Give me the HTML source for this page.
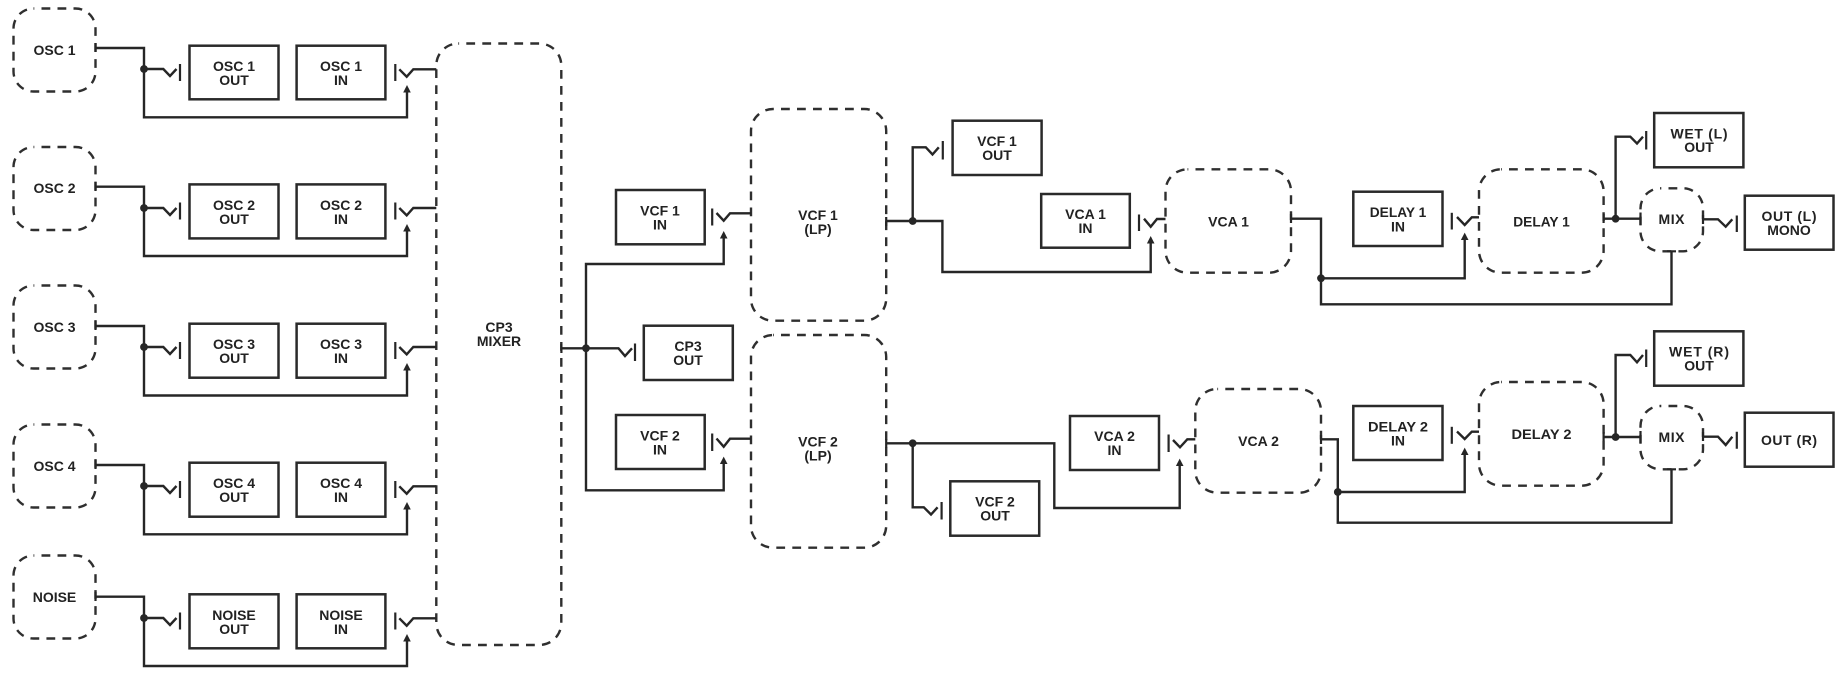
<!DOCTYPE html>
<html><head><meta charset="utf-8"><style>
html,body{margin:0;padding:0;background:#fff;width:1846px;height:682px;overflow:hidden}
svg{display:block}
.d{fill:none;stroke:#2f2f2f;stroke-width:2.4;stroke-dasharray:8.8 7.2;stroke-dashoffset:8}
.b{fill:none;stroke:#2a2a2a;stroke-width:2.5}
.l{fill:none;stroke:#262626;stroke-width:2.4;stroke-linejoin:miter}
.s{fill:none;stroke:#262626;stroke-width:2.2}
.c{fill:#262626}
text{font-family:"Liberation Sans",sans-serif;font-weight:700;font-size:14px;fill:#222;text-anchor:middle}
</style></head><body>
<svg width="1846" height="682" viewBox="0 0 1846 682" xmlns="http://www.w3.org/2000/svg">
<!-- dashed blocks -->
<rect class="d" x="13.5" y="8.5" width="82" height="83" rx="20"/>
<rect class="d" x="13.5" y="147" width="82" height="83" rx="20"/>
<rect class="d" x="13.5" y="285.5" width="82" height="83" rx="20"/>
<rect class="d" x="13.5" y="424.5" width="82" height="83" rx="20"/>
<rect class="d" x="13.5" y="555.5" width="82" height="83" rx="20"/>
<rect class="d" x="436.3" y="43.5" width="125" height="601.5" rx="22"/>
<rect class="d" x="751" y="109" width="135.2" height="211.7" rx="22"/>
<rect class="d" x="751" y="335" width="135.2" height="212.7" rx="22"/>
<rect class="d" x="1165.5" y="169.3" width="125.5" height="103.4" rx="22"/>
<rect class="d" x="1195.3" y="389" width="125.7" height="103.7" rx="22"/>
<rect class="d" x="1479" y="169.3" width="124.6" height="103.4" rx="22"/>
<rect class="d" x="1479" y="382" width="124.6" height="103.7" rx="22"/>
<rect class="d" x="1640.5" y="188.3" width="62.5" height="63" rx="20"/>
<rect class="d" x="1640.5" y="406" width="62.5" height="63.3" rx="20"/>
<!-- solid boxes -->
<rect class="b" x="189.5" y="45.7" width="89" height="53.6"/><rect class="b" x="296.6" y="45.7" width="88.8" height="53.6"/>
<rect class="b" x="189.5" y="184.4" width="89" height="54"/><rect class="b" x="296.6" y="184.4" width="88.8" height="54"/>
<rect class="b" x="189.5" y="323.7" width="89" height="54"/><rect class="b" x="296.6" y="323.7" width="88.8" height="54"/>
<rect class="b" x="189.5" y="462.7" width="89" height="54"/><rect class="b" x="296.6" y="462.7" width="88.8" height="54"/>
<rect class="b" x="189.5" y="594.3" width="89" height="54"/><rect class="b" x="296.6" y="594.3" width="88.8" height="54"/>
<rect class="b" x="616" y="190" width="88.7" height="54.3"/>
<rect class="b" x="643.8" y="325.7" width="89" height="54.3"/>
<rect class="b" x="616" y="415" width="88.7" height="54"/>
<rect class="b" x="952.6" y="120.7" width="89" height="54.3"/>
<rect class="b" x="950.3" y="481.3" width="88.9" height="54.4"/>
<rect class="b" x="1041.2" y="194" width="88.6" height="53.7"/>
<rect class="b" x="1070" y="416" width="89" height="54"/>
<rect class="b" x="1353.3" y="191.7" width="89.2" height="54.3"/>
<rect class="b" x="1353.3" y="406" width="89.2" height="54"/>
<rect class="b" x="1654.2" y="113" width="89.2" height="54.3"/>
<rect class="b" x="1654.2" y="331.3" width="89.2" height="54.4"/>
<rect class="b" x="1744.8" y="195.7" width="88.7" height="54"/>
<rect class="b" x="1744.8" y="412.7" width="88.7" height="54"/>
<!-- exit ticks -->
<path class="s" d="M95.5 43V52M95.5 182V191M95.5 321V330M95.5 460V469M95.5 592V601M561.4 344V353M886.2 217V226M886.2 439V448M1291 214V223M1321 435V444M1603.6 214V223M1603.6 432V441M1703 215V224M1703 432V441M1667 251.3H1676M1667 469.3H1676"/>
<!-- OSC 1 -->
<path class="l" d="M95.5 48H144V117.3H407V91"/><path class="l" d="M144 69H163.3L170 76L176.5 69"/><path class="s" d="M180 64V81M395.3 64V81"/><path class="l" d="M399.3 69.3L406.7 76.7L413.3 69.3H436.3"/>
<polygon class="c" points="407,85 403.2,92.5 410.8,92.5"/><circle class="c" cx="144" cy="69" r="3.9"/>
<!-- OSC 2 -->
<path class="l" d="M95.5 186.7H144V256H407V230"/><path class="l" d="M144 208H163.3L170 215L176.5 208"/><path class="s" d="M180 202.5V219.5M395.3 202.5V219.5"/><path class="l" d="M399.3 208L406.7 215.4L413.3 208H436.3"/>
<polygon class="c" points="407,224 403.2,231.5 410.8,231.5"/><circle class="c" cx="144" cy="208" r="3.9"/>
<!-- OSC 3 -->
<path class="l" d="M95.5 326H144V395.5H407V369"/><path class="l" d="M144 347H163.3L170 354L176.5 347"/><path class="s" d="M180 342V359M395.3 342V359"/><path class="l" d="M399.3 347L406.7 354.4L413.3 347H436.3"/>
<polygon class="c" points="407,363 403.2,370.5 410.8,370.5"/><circle class="c" cx="144" cy="347" r="3.9"/>
<!-- OSC 4 -->
<path class="l" d="M95.5 465H144V534.3H407V508"/><path class="l" d="M144 486H163.3L170 493L176.5 486"/><path class="s" d="M180 481V498M395.3 481V498"/><path class="l" d="M399.3 486.3L406.7 493.7L413.3 486.3H436.3"/>
<polygon class="c" points="407,502 403.2,509.5 410.8,509.5"/><circle class="c" cx="144" cy="486" r="3.9"/>
<!-- NOISE -->
<path class="l" d="M95.5 596.7H144V666H407V640"/><path class="l" d="M144 618H163.3L170 625L176.5 618"/><path class="s" d="M180 612.5V629.5M395.3 612.5V629.5"/><path class="l" d="M399.3 618.3L406.7 625.7L413.3 618.3H436.3"/>
<polygon class="c" points="407,634 403.2,641.5 410.8,641.5"/><circle class="c" cx="144" cy="618" r="3.9"/>
<!-- mixer outputs -->
<path class="l" d="M561.4 348.3H618.5L625 356L632 348.3"/><path class="s" d="M635 343.5V361"/>
<path class="l" d="M723.7 238V264H586V490.3H723.7V464"/>
<polygon class="c" points="723.7,231 719.9,238.5 727.5,238.5"/><polygon class="c" points="723.7,456.6 719.9,464 727.5,464"/>
<circle class="c" cx="586" cy="348.3" r="3.9"/>
<path class="s" d="M712.2 208.5V225.5M712.2 433.5V451"/>
<path class="l" d="M716.5 213L723.7 220.7L730 213.3H751"/><path class="l" d="M716.5 438.5L723.7 446.7L730 438.7H751"/>
<!-- VCF 1 out -->
<path class="l" d="M886.2 221H942.4V272H1150.7V243"/><path class="l" d="M912.7 221V147.3H925.8L932.5 154.5L938.8 147.3"/><path class="s" d="M942.8 141V159.5"/>
<circle class="c" cx="912.7" cy="221" r="3.9"/><polygon class="c" points="1150.7,236 1146.9,243.5 1154.5,243.5"/>
<path class="s" d="M1139 214.5V231"/><path class="l" d="M1144 218.7L1150.7 226.7L1157 219H1165.5"/>
<!-- VCF 2 out -->
<path class="l" d="M886.2 443.3H1054.3V508H1179.7V466"/><path class="l" d="M912.7 443.3V507.3H923.8L931 514.5L937.6 507.3"/><path class="s" d="M941.6 502V519.5"/>
<circle class="c" cx="912.7" cy="443.3" r="3.9"/><polygon class="c" points="1179.7,458.6 1175.9,466 1183.5,466"/>
<path class="s" d="M1168.6 434.5V452"/><path class="l" d="M1173 440L1180 447.3L1187.3 439.3H1195.3"/>
<!-- VCA 1 out -->
<path class="l" d="M1291 218.7H1321V304.3H1671.5V251"/><path class="l" d="M1321 278.3H1464.7V240"/>
<circle class="c" cx="1321" cy="278.3" r="3.9"/><polygon class="c" points="1464.7,232.6 1460.9,240 1468.5,240"/>
<path class="s" d="M1451.8 212.8V229.5"/><path class="l" d="M1457 217L1464.7 225L1471.8 217.3H1479"/>
<!-- VCA 2 out -->
<path class="l" d="M1321 439.3H1337.8V522.7H1671.5V469"/><path class="l" d="M1337.8 492H1464.7V455"/>
<circle class="c" cx="1337.8" cy="492" r="3.9"/><polygon class="c" points="1464.7,447.6 1460.9,455 1468.5,455"/>
<path class="s" d="M1451.8 426.8V443.8"/><path class="l" d="M1457 431.5L1464.7 439L1471.8 431.7H1479"/>
<!-- Delay 1 out -->
<path class="l" d="M1603.6 218.7H1640"/><path class="l" d="M1615.6 218.7V136.7H1630.3L1637 143.5L1643 136.7"/><path class="s" d="M1646.2 131V149.5"/>
<circle class="c" cx="1615.6" cy="218.7" r="3.9"/>
<path class="l" d="M1703 219.3H1718L1725.7 226.7L1732.3 219.3"/><path class="s" d="M1736.8 215.5V232M1640.5 212.5V225"/>
<!-- Delay 2 out -->
<path class="l" d="M1603.6 437H1640"/><path class="l" d="M1615.6 437V355H1630.3L1637 362.3L1643 355"/><path class="s" d="M1646.2 349.5V367"/>
<circle class="c" cx="1615.6" cy="437" r="3.9"/>
<path class="l" d="M1703 436.7H1718L1725.7 445L1732.3 436.7"/><path class="s" d="M1736.8 431.8V448.8M1640.5 431V443"/>
<!-- labels -->
<text x="54.5" y="55">OSC 1</text><text x="54.5" y="193">OSC 2</text><text x="54.5" y="332">OSC 3</text><text x="54.5" y="471">OSC 4</text><text x="54.5" y="602">NOISE</text>
<text x="234" y="71">OSC 1</text><text x="234" y="85">OUT</text><text x="341" y="71">OSC 1</text><text x="341" y="85">IN</text>
<text x="234" y="210">OSC 2</text><text x="234" y="224">OUT</text><text x="341" y="210">OSC 2</text><text x="341" y="224">IN</text>
<text x="234" y="349">OSC 3</text><text x="234" y="363">OUT</text><text x="341" y="349">OSC 3</text><text x="341" y="363">IN</text>
<text x="234" y="488">OSC 4</text><text x="234" y="502">OUT</text><text x="341" y="488">OSC 4</text><text x="341" y="502">IN</text>
<text x="234" y="620">NOISE</text><text x="234" y="634">OUT</text><text x="341" y="620">NOISE</text><text x="341" y="634">IN</text>
<text x="499" y="332">CP3</text><text x="499" y="346">MIXER</text>
<text x="660" y="215.5">VCF 1</text><text x="660" y="229.5">IN</text>
<text x="688" y="351">CP3</text><text x="688" y="365">OUT</text>
<text x="660" y="440.5">VCF 2</text><text x="660" y="454.5">IN</text>
<text x="818" y="220">VCF 1</text><text x="818" y="234">(LP)</text>
<text x="818" y="446.5">VCF 2</text><text x="818" y="460.5">(LP)</text>
<text x="997" y="146">VCF 1</text><text x="997" y="160">OUT</text>
<text x="995" y="506.5">VCF 2</text><text x="995" y="520.5">OUT</text>
<text x="1085.5" y="219">VCA 1</text><text x="1085.5" y="233">IN</text>
<text x="1114.5" y="441">VCA 2</text><text x="1114.5" y="455">IN</text>
<text x="1228.5" y="226.5">VCA 1</text><text x="1258.5" y="446">VCA 2</text>
<text x="1398" y="217" textLength="56.5" lengthAdjust="spacingAndGlyphs">DELAY 1</text><text x="1398" y="231.5">IN</text>
<text x="1398" y="431.5" textLength="60" lengthAdjust="spacingAndGlyphs">DELAY 2</text><text x="1398" y="445.5">IN</text>
<text x="1541.5" y="226.5" textLength="56.5" lengthAdjust="spacingAndGlyphs">DELAY 1</text><text x="1541.5" y="439" textLength="60" lengthAdjust="spacingAndGlyphs">DELAY 2</text>
<text x="1699" y="138.5" textLength="57" lengthAdjust="spacing">WET (L)</text><text x="1699" y="152">OUT</text>
<text x="1699" y="356.5" textLength="60" lengthAdjust="spacing">WET (R)</text><text x="1699" y="370.5">OUT</text>
<text x="1671.5" y="224" textLength="26" lengthAdjust="spacing">MIX</text><text x="1671.5" y="442" textLength="26" lengthAdjust="spacing">MIX</text>
<text x="1789" y="221" textLength="55" lengthAdjust="spacing">OUT (L)</text><text x="1789" y="235">MONO</text>
<text x="1789" y="445" textLength="56" lengthAdjust="spacing">OUT (R)</text>
</svg>
</body></html>
